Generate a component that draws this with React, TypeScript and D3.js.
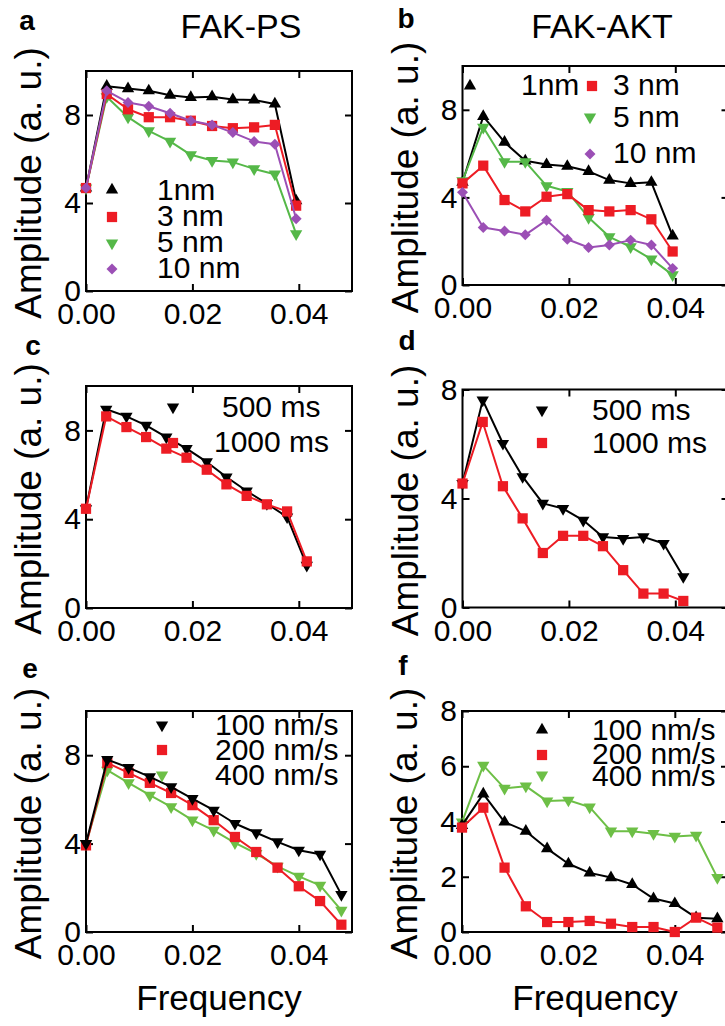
import { useEffect, useRef } from 'react'
import * as d3 from 'd3'

const WIDTH = 725
const HEIGHT = 1026
const FONT = "'Liberation Sans', Arial, Helvetica, sans-serif"

const freqAB = [0, 0.0039, 0.0079, 0.0118, 0.0158, 0.0197, 0.0237, 0.0276, 0.0316, 0.0355, 0.0395]
const freqCD = [0, 0.0038, 0.0076, 0.0113, 0.0151, 0.0189, 0.0227, 0.0264, 0.0302, 0.034, 0.0378, 0.0415]
const freqEF = [0, 0.004, 0.008, 0.012, 0.016, 0.02, 0.024, 0.028, 0.032, 0.036, 0.04, 0.044, 0.048]

// a: FAK-PS
const ps1nm = [4.68, 9.31, 9.2, 9.1, 8.9, 8.8, 8.83, 8.7, 8.68, 8.5, 4.1]
const ps3nm = [4.68, 8.95, 8.26, 7.9, 7.9, 7.74, 7.5, 7.4, 7.44, 7.55, 3.88]
const ps5nm = [4.68, 8.83, 7.9, 7.28, 6.8, 6.19, 5.93, 5.86, 5.55, 5.31, 2.6]
const ps10nm = [4.68, 9.1, 8.57, 8.4, 8.08, 7.74, 7.55, 7.2, 6.8, 6.67, 3.28]

// b: FAK-AKT
const akt1nm = [4.69, 7.7, 6.52, 5.67, 5.5, 5.42, 5.19, 4.79, 4.64, 4.69, 2.24]
const akt3nm = [4.64, 5.45, 3.88, 3.36, 4.03, 4.15, 3.42, 3.36, 3.42, 3.0, 1.53]
const akt5nm = [4.76, 7.2, 5.63, 5.63, 4.53, 4.27, 3.08, 2.2, 1.74, 1.18, 0.46]
const akt10nm = [4.23, 2.63, 2.47, 2.29, 2.96, 2.09, 1.71, 1.83, 2.05, 1.83, 0.76]

// c / d: exposure time
const ps500ms = [4.47, 8.95, 8.63, 8.23, 7.7, 7.18, 6.58, 5.9, 5.27, 4.7, 4.1, 1.92]
const ps1000ms = [4.47, 8.63, 8.15, 7.7, 7.18, 6.77, 6.23, 5.57, 5.05, 4.67, 4.35, 2.1]
const akt500ms = [4.55, 7.61, 6.02, 4.8, 3.82, 3.63, 3.2, 2.59, 2.53, 2.59, 2.35, 1.13]
const akt1000ms = [4.55, 6.81, 4.45, 3.27, 2.0, 2.63, 2.63, 2.25, 1.37, 0.51, 0.51, 0.24]

// e / f: speed
const ps100 = [4.0, 7.8, 7.44, 7.02, 6.57, 6.04, 5.51, 4.91, 4.49, 4.08, 3.7, 3.52, 1.69]
const ps200 = [3.92, 7.65, 7.2, 6.75, 6.29, 5.74, 5.06, 4.3, 3.62, 2.91, 2.07, 1.4, 0.33]
const ps400 = [4.0, 7.32, 6.75, 6.19, 5.66, 5.06, 4.6, 4.03, 3.55, 2.97, 2.52, 2.11, 0.98]
const akt100 = [3.86, 5.0, 3.98, 3.65, 3.02, 2.47, 2.14, 1.97, 1.72, 1.21, 1.03, 0.52, 0.48]
const akt200 = [3.78, 4.5, 2.33, 0.93, 0.36, 0.36, 0.4, 0.3, 0.18, 0.18, 0.0, 0.52, 0.16]
const akt400 = [3.98, 6.03, 5.2, 5.28, 4.74, 4.77, 4.52, 3.65, 3.65, 3.56, 3.46, 3.5, 1.97]

const xTicks = [0, 0.02, 0.04]

const BLACK = '#000000'
const RED = '#ED1C24'
const GREEN = '#55B848'
const LIGHTGREEN = '#6DBF46'
const PURPLE = '#9B4FB5'

// series are listed in drawing order (last one on top)
const panels = [
  {
    letter: 'a', letterPos: [27, 30], title: 'FAK-PS', titlePos: [241, 38],
    box: { l: 86, t: 71, r: 352, b: 291 }, yMax: 10, yTicks: [0, 4, 8], freq: freqAB,
    series: [
      { label: '1nm', values: ps1nm, color: BLACK, shape: 'up', mark: [112, 190], text: [157, 200] },
      { label: '5 nm', values: ps5nm, color: GREEN, shape: 'down', mark: [112, 243], text: [157, 252] },
      { label: '3 nm', values: ps3nm, color: RED, shape: 'square', mark: [112, 217], text: [157, 226] },
      { label: '10 nm', values: ps10nm, color: PURPLE, shape: 'diamond', mark: [112, 269], text: [157, 278] },
    ],
  },
  {
    letter: 'b', letterPos: [406, 28], title: 'FAK-AKT', titlePos: [602, 38],
    box: { l: 462.5, t: 66, r: 728.5, b: 285 }, yMax: 10, yTicks: [0, 4, 8], freq: freqAB,
    series: [
      { label: '1nm', values: akt1nm, color: BLACK, shape: 'up', mark: [470, 86], text: [521, 95] },
      { label: '5 nm', values: akt5nm, color: GREEN, shape: 'down', mark: [590, 117], text: [613, 127] },
      { label: '3 nm', values: akt3nm, color: RED, shape: 'square', mark: [592, 86], text: [613, 95] },
      { label: '10 nm', values: akt10nm, color: PURPLE, shape: 'diamond', mark: [590, 154], text: [613, 163] },
    ],
  },
  {
    letter: 'c', letterPos: [33, 355],
    box: { l: 86, t: 386, r: 352, b: 608 }, yMax: 10, yTicks: [0, 4, 8], freq: freqCD,
    series: [
      { label: '500 ms', values: ps500ms, color: BLACK, shape: 'down', mark: [173, 407], text: [222, 417] },
      { label: '1000 ms', values: ps1000ms, color: RED, shape: 'square', mark: [173, 443], text: [214, 452] },
    ],
  },
  {
    letter: 'd', letterPos: [407, 350],
    box: { l: 462.5, t: 389.5, r: 728.5, b: 607.5 }, yMax: 8, yTicks: [0, 4, 8], freq: freqCD,
    series: [
      { label: '500 ms', values: akt500ms, color: BLACK, shape: 'down', mark: [542, 410], text: [592, 420] },
      { label: '1000 ms', values: akt1000ms, color: RED, shape: 'square', mark: [542, 443], text: [592, 453] },
    ],
  },
  {
    letter: 'e', letterPos: [30, 678], xLabel: 'Frequency',
    box: { l: 86, t: 711, r: 352, b: 932 }, yMax: 10, yTicks: [0, 4, 8], freq: freqEF,
    series: [
      { label: '400 nm/s', values: ps400, color: LIGHTGREEN, shape: 'down', mark: [162, 775], text: [215, 785] },
      { label: '200 nm/s', values: ps200, color: RED, shape: 'square', mark: [162, 750], text: [215, 760] },
      { label: '100 nm/s', values: ps100, color: BLACK, shape: 'down', mark: [162, 725], text: [215, 735] },
    ],
  },
  {
    letter: 'f', letterPos: [403, 675], xLabel: 'Frequency',
    box: { l: 462, t: 711, r: 728, b: 932 }, yMax: 8, yTicks: [0, 2, 4, 6, 8], freq: freqEF,
    series: [
      { label: '400 nm/s', values: akt400, color: LIGHTGREEN, shape: 'down', mark: [542, 775], text: [592, 786] },
      { label: '100 nm/s', values: akt100, color: BLACK, shape: 'up', mark: [542, 730], text: [592, 740] },
      { label: '200 nm/s', values: akt200, color: RED, shape: 'square', mark: [542, 755], text: [592, 764] },
    ],
  },
]

const markerPath = (shape) => {
  if (shape === 'square') return d3.symbol(d3.symbolSquare, 105)()
  if (shape === 'diamond') return d3.symbol(d3.symbolSquare, 60)()
  return d3.symbol(d3.symbolTriangle, 66)()
}
const markerRot = (shape) => (shape === 'down' ? 180 : shape === 'diamond' ? 45 : 0)

const Chart = () => {
  const svgRef = useRef(null)

  useEffect(() => {
    const svg = d3.select(svgRef.current)
    svg.selectAll('*').remove()

    svg.append('rect').attr('width', WIDTH).attr('height', HEIGHT).attr('fill', '#fff')

    panels.forEach((p) => {
      const { l, t, r, b } = p.box
      const x = d3.scaleLinear([0, 0.05], [l, r])
      const y = d3.scaleLinear([0, p.yMax], [b, t])
      const g = svg.append('g')

      // axes: ticks point inwards, mirrored on top/right
      const styleAxis = (sel) => {
        sel.select('.domain').remove()
        sel.selectAll('.tick line').attr('stroke', '#000').attr('stroke-width', 2)
        sel
          .selectAll('.tick text')
          .attr('fill', '#000')
          .style('font-family', FONT)
          .style('font-size', '30px')
      }
      g.append('g')
        .attr('transform', `translate(0,${b})`)
        .call(d3.axisBottom(x).tickValues(xTicks).tickFormat(d3.format('.2f')).tickSizeInner(-7).tickSizeOuter(0).tickPadding(12))
        .call(styleAxis)
      g.append('g')
        .attr('transform', `translate(0,${t})`)
        .call(d3.axisTop(x).tickValues(xTicks).tickFormat(() => '').tickSizeInner(-7).tickSizeOuter(0))
        .call(styleAxis)
      g.append('g')
        .attr('transform', `translate(${l},0)`)
        .call(d3.axisLeft(y).tickValues(p.yTicks).tickFormat(d3.format('d')).tickSizeInner(-7).tickSizeOuter(0).tickPadding(5))
        .call(styleAxis)
      g.append('g')
        .attr('transform', `translate(${r},0)`)
        .call(d3.axisRight(y).tickValues(p.yTicks).tickFormat(() => '').tickSizeInner(-7).tickSizeOuter(0))
        .call(styleAxis)

      g.append('rect')
        .attr('x', l)
        .attr('y', t)
        .attr('width', r - l)
        .attr('height', b - t)
        .attr('fill', 'none')
        .attr('stroke', '#000')
        .attr('stroke-width', 2)

      // series
      p.series.forEach((s) => {
        const line = d3
          .line()
          .x((d, i) => x(p.freq[i]))
          .y((d) => y(d))
        g.append('path')
          .attr('d', line(s.values))
          .attr('fill', 'none')
          .attr('stroke', s.color)
          .attr('stroke-width', 2)
          .attr('stroke-linejoin', 'round')
        g.append('g')
          .selectAll('path')
          .data(s.values)
          .join('path')
          .attr('d', markerPath(s.shape))
          .attr('fill', s.color)
          .attr('transform', (d, i) => `translate(${x(p.freq[i])},${y(d)}) rotate(${markerRot(s.shape)})`)
      })

      // legend
      p.series.forEach((s) => {
        g.append('path')
          .attr('d', markerPath(s.shape))
          .attr('fill', s.color)
          .attr('transform', `translate(${s.mark[0]},${s.mark[1]}) rotate(${markerRot(s.shape)})`)
        g.append('text')
          .attr('x', s.text[0])
          .attr('y', s.text[1])
          .style('font-family', FONT)
          .style('font-size', '30px')
          .attr('fill', '#000')
          .text(s.label)
      })

      // labels
      g.append('text')
        .attr('transform', `translate(${l - 45},${(t + b) / 2 + 2}) rotate(-90)`)
        .attr('text-anchor', 'middle')
        .style('font-family', FONT)
        .style('font-size', '37px')
        .text('Amplitude (a. u.)')

      g.append('text')
        .attr('x', p.letterPos[0])
        .attr('y', p.letterPos[1])
        .attr('text-anchor', 'middle')
        .style('font-family', FONT)
        .style('font-size', '28px')
        .style('font-weight', 'bold')
        .text(p.letter)

      if (p.title) {
        g.append('text')
          .attr('x', p.titlePos[0])
          .attr('y', p.titlePos[1])
          .attr('text-anchor', 'middle')
          .style('font-family', FONT)
          .style('font-size', '34px')
          .text(p.title)
      }
      if (p.xLabel) {
        g.append('text')
          .attr('x', (l + r) / 2)
          .attr('y', 1010)
          .attr('text-anchor', 'middle')
          .style('font-family', FONT)
          .style('font-size', '35px')
          .text(p.xLabel)
      }
    })
  }, [])

  return (
    <svg
      ref={svgRef}
      width={WIDTH}
      height={HEIGHT}
      style={{ position: 'absolute', left: 0, top: 0, display: 'block' }}
    />
  )
}

export default function App() {
  return <Chart />
}
